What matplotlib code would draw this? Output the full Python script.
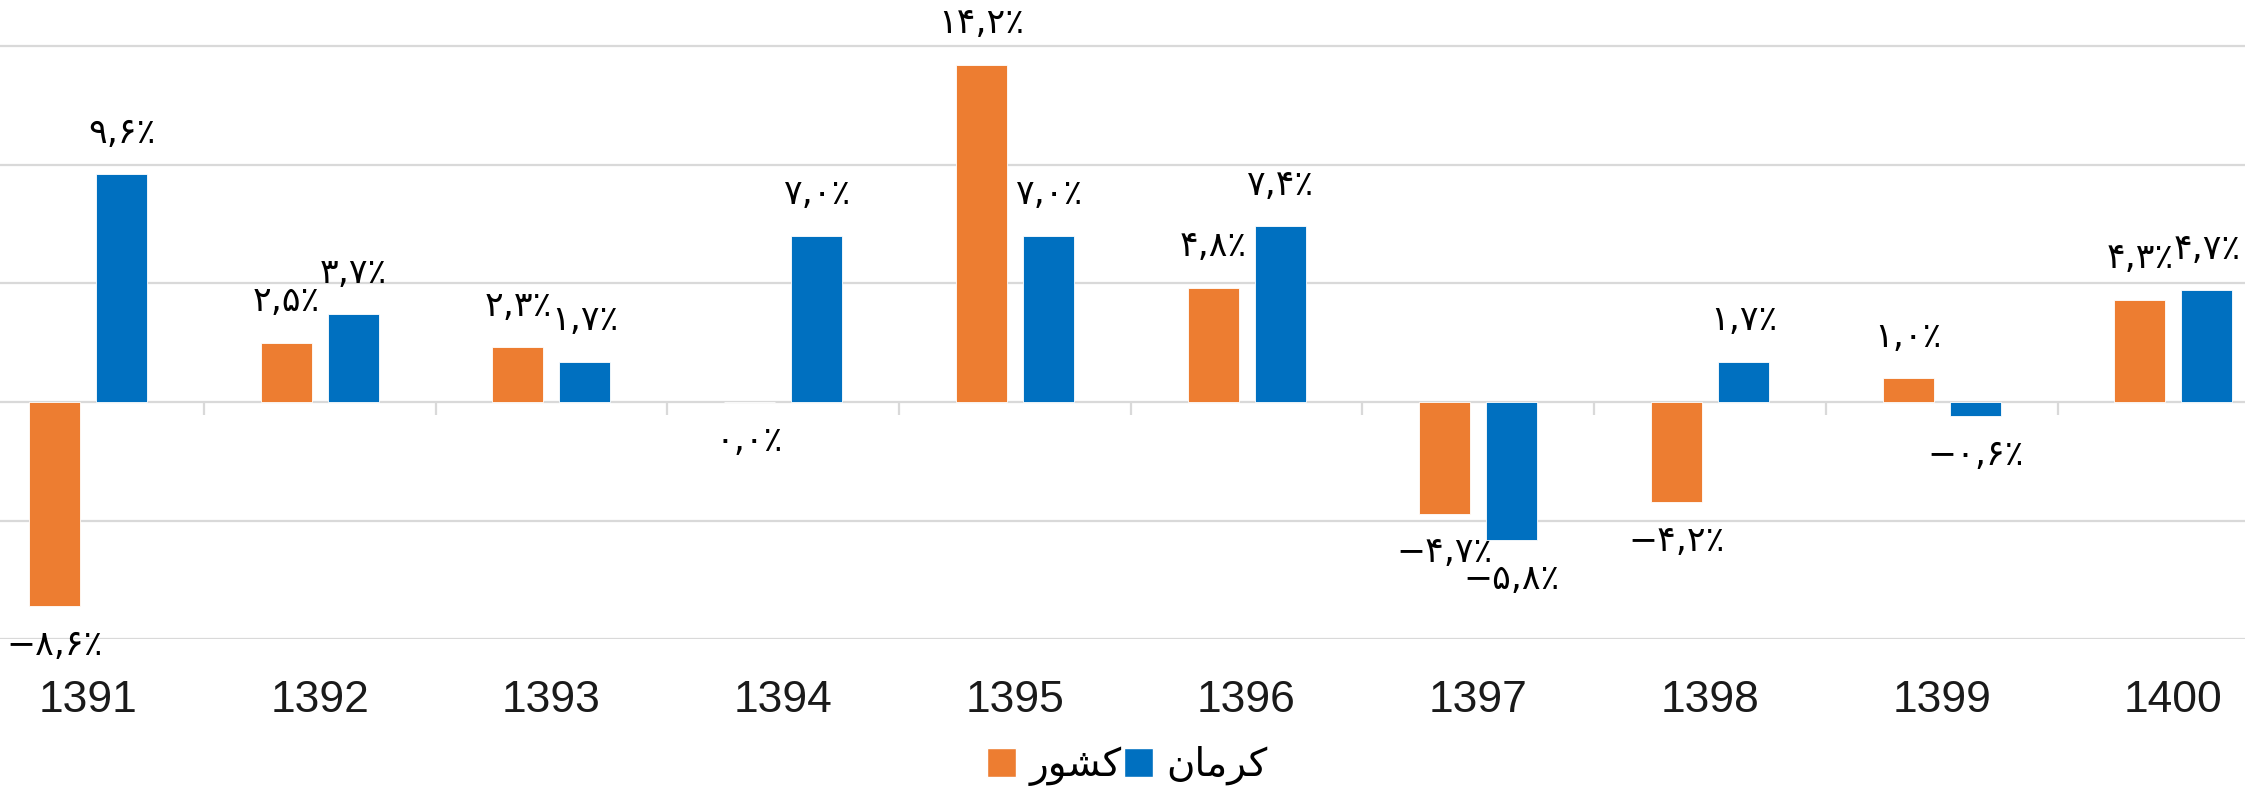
import matplotlib
matplotlib.use("Agg")
import matplotlib.pyplot as plt
from matplotlib.patches import Patch
import numpy as np

years = ["1391", "1392", "1393", "1394", "1395", "1396", "1397", "1398", "1399", "1400"]
keshvar = [-8.6, 2.5, 2.3, 0.0, 14.2, 4.8, -4.7, -4.2, 1.0, 4.3]
kerman = [9.6, 3.7, 1.7, 7.0, 7.0, 7.4, -5.8, 1.7, -0.6, 4.7]
series_names = ["کشور", "کرمان"]
colors = ["#ED7D31", "#0070C0"]

PERSIAN = str.maketrans("0123456789", "۰۱۲۳۴۵۶۷۸۹")

# contextual forms (isolated, final, initial, medial) for the letters used;
# matplotlib does not shape Arabic script, so it is shaped here for display.
FORMS = {
    "ک": ("\uFB8E", "\uFB8F", "\uFB90", "\uFB91"),
    "ش": ("\uFEB5", "\uFEB6", "\uFEB7", "\uFEB8"),
    "م": ("\uFEE1", "\uFEE2", "\uFEE3", "\uFEE4"),
    "ن": ("\uFEE5", "\uFEE6", "\uFEE7", "\uFEE8"),
    "و": ("\uFEED", "\uFEEE", None, None),
    "ر": ("\uFEAD", "\uFEAE", None, None),
    "ا": ("\uFE8D", "\uFE8E", None, None),
}

def dual(ch):
    return ch in FORMS and FORMS[ch][2] is not None

def shape(text):
    out = []
    for i, ch in enumerate(text):
        if ch not in FORMS:
            out.append(ch)
            continue
        prev_j = i > 0 and dual(text[i - 1])
        next_j = dual(ch) and i + 1 < len(text) and text[i + 1] in FORMS
        iso, fin, ini, med = FORMS[ch]
        if prev_j and next_j:
            out.append(med)
        elif prev_j:
            out.append(fin)
        elif next_j:
            out.append(ini)
        else:
            out.append(iso)
    return "".join(reversed(out))

def fmt(v):
    s = f"{abs(v):.1f}".replace(".", ",").translate(PERSIAN) + "٪"
    return ("−" + s) if v < 0 else s

W, H = 2245, 789
fig = plt.figure(figsize=(W / 100, H / 100), dpi=100)
ppu = 23.73  # pixels per unit
zero_y = 402
bottom_px = zero_y + 10 * ppu
top_px = zero_y - 20 * ppu
left_px = -27.8
cat_w = 231.7
ax = fig.add_axes([left_px / W, (H - bottom_px) / H, 10 * cat_w / W, (bottom_px - top_px) / H])
ax.set_xlim(-0.5, 9.5)
ax.set_ylim(-10, 20)
for s in ax.spines.values():
    s.set_visible(False)

ax.set_yticks([-10, -5, 0, 5, 10, 15, 20])
ax.yaxis.grid(True, color="#d9d9d9", linewidth=1.6)
ax.set_axisbelow(True)
ax.tick_params(axis="y", left=False, labelleft=False)

x = np.arange(len(years))
bw = 0.22
off = 0.1446
for vals, c, dx in [(keshvar, colors[0], -off), (kerman, colors[1], off)]:
    ax.bar(x + dx, vals, width=bw, color=c, edgecolor="white", linewidth=0.6, zorder=3)
    for xi, v in zip(x + dx, vals):
        dy = 30 if v > 0 else -28
        ax.annotate(fmt(v), (xi, v), xytext=(0, dy), textcoords="offset points",
                    ha="center", va="center", fontsize=25, family=["DejaVu Sans"], color="#000000")

# category separator ticks on the zero line
ax.vlines(x[:-1] + 0.5, -13 / ppu, 0, color="#d9d9d9", linewidth=1.6, zorder=2)

ax.set_xticks(x)
ax.set_xticklabels(years, fontsize=32, family=["Liberation Sans"], color="#1a1a1a")
ax.tick_params(axis="x", length=0, pad=29)

handles = [Patch(facecolor=colors[0], edgecolor="white"), Patch(facecolor=colors[1], edgecolor="white")]
leg = fig.legend(handles, [shape(n) for n in series_names], loc="center",
                 bbox_to_anchor=(0.5 + 5 / W, (H - 766) / H), ncol=2,
                 frameon=False, prop={"family": ["DejaVu Sans"], "size": 28},
                 handlelength=0.75, handleheight=0.75, handletextpad=0.35, columnspacing=0.05)

fig.savefig("out.png", dpi=100)
